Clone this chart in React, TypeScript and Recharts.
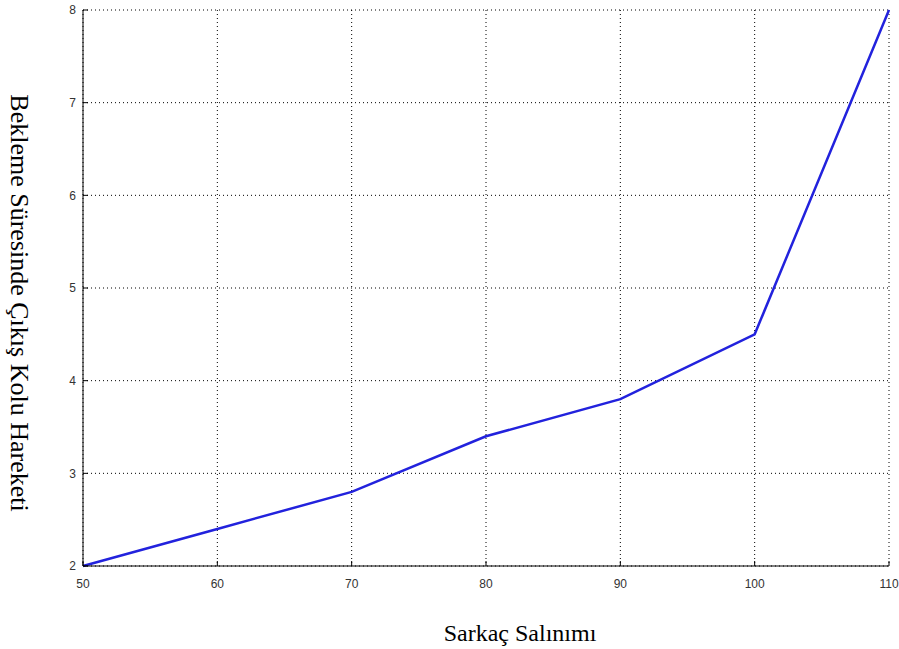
import React from "react";
import {
  LineChart,
  Line,
  XAxis,
  YAxis,
  CartesianGrid,
} from "recharts";

// Sarkaç salınımı vs. bekleme süresinde çıkış kolu hareketi
const swing = [50, 60, 70, 80, 90, 100, 110];
const movement = [2.0, 2.4, 2.8, 3.4, 3.8, 4.5, 8.0];
const xTicks = [50, 60, 70, 80, 90, 100, 110];
const yTicks = [2, 3, 4, 5, 6, 7, 8];

const xLabel = "Sarkaç Salınımı";
const yLabel = "Bekleme Süresinde Çıkış Kolu Hareketi";

const data = swing.map((s, i) => ({ swing: s, movement: movement[i] }));

const tickStyle = { fontSize: 12, fill: "#333", fontFamily: "Liberation Sans, Arial, sans-serif" };
const serif = "Liberation Serif, Times New Roman, serif";

export default function App() {
  return (
    <div style={{ position: "absolute", left: 0, top: 0, background: "#fff" }}>
      <LineChart
        width={899}
        height={649}
        data={data}
        margin={{ top: 10, right: 10, left: 0, bottom: 0 }}
      >
        <CartesianGrid xAxisId="bottom" yAxisId="left" stroke="#000" strokeDasharray="1 3" />
        <XAxis
          xAxisId="bottom"
          dataKey="swing"
          type="number"
          domain={[50, 110]}
          ticks={xTicks}
          height={83}
          stroke="#000"
          tickSize={-5}
          tickMargin={18}
          tick={tickStyle}
          label={() => (
            <text x={520} y={641} textAnchor="middle" fontFamily={serif} fontSize={24} fill="#000">
              {xLabel}
            </text>
          )}
        />
        <XAxis
          xAxisId="top"
          orientation="top"
          dataKey="swing"
          type="number"
          domain={[50, 110]}
          ticks={xTicks}
          height={0}
          stroke="#555"
          tickSize={-5}
          tickFormatter={() => ""}
        />
        <YAxis
          yAxisId="left"
          type="number"
          domain={[2, 8]}
          ticks={yTicks}
          width={83}
          stroke="#000"
          tickSize={-5}
          tickMargin={12}
          tick={tickStyle}
          label={() => (
            <text
              x={19}
              y={303}
              transform="rotate(90, 19, 303)"
              textAnchor="middle"
              dominantBaseline="central"
              fontFamily={serif}
              fontSize={26}
              fill="#000"
            >
              {yLabel}
            </text>
          )}
        />
        <YAxis
          yAxisId="right"
          orientation="right"
          type="number"
          domain={[2, 8]}
          ticks={yTicks}
          width={0}
          stroke="#555"
          tickSize={-5}
          tickFormatter={() => ""}
        />
        <Line
          xAxisId="bottom"
          yAxisId="left"
          type="linear"
          dataKey="movement"
          stroke="#2222dd"
          strokeWidth={2.5}
          dot={false}
          isAnimationActive={false}
        />
      </LineChart>
    </div>
  );
}
